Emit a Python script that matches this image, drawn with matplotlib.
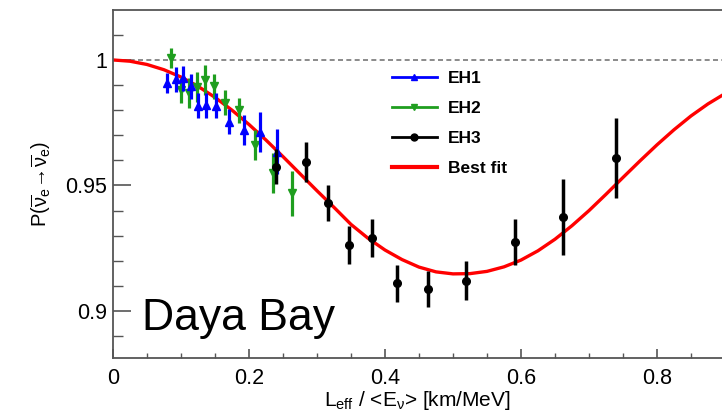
import matplotlib
matplotlib.use('Agg')
import matplotlib.pyplot as plt
from matplotlib.lines import Line2D
from matplotlib.ticker import MultipleLocator, FuncFormatter

plt.rcParams['font.family'] = ['Liberation Sans', 'DejaVu Sans']
plt.rcParams['mathtext.fontset'] = 'custom'
plt.rcParams['mathtext.rm'] = 'Liberation Sans'
plt.rcParams['mathtext.it'] = 'Liberation Sans:italic'
plt.rcParams['mathtext.bf'] = 'Liberation Sans:bold'

# Near hall EH1 (blue, up triangles)
EH1_L = [0.079, 0.093, 0.103, 0.114, 0.125, 0.137, 0.152, 0.170, 0.193, 0.216, 0.241]
EH1_P = [0.9907, 0.9923, 0.9927, 0.9896, 0.9817, 0.9820, 0.9817, 0.9754, 0.9720, 0.9714, 0.9635]
EH1_ERR = [0.004, 0.005, 0.005, 0.005, 0.005, 0.005, 0.005, 0.005, 0.006, 0.008, 0.009]

# Near hall EH2 (green, down triangles)
EH2_L = [0.085, 0.100, 0.112, 0.124, 0.136, 0.148, 0.165, 0.185, 0.209, 0.235, 0.263]
EH2_P = [1.0007, 0.9880, 0.9867, 0.9894, 0.9920, 0.9896, 0.9830, 0.9800, 0.9660, 0.9549, 0.9469]
EH2_ERR = [0.004, 0.005, 0.006, 0.006, 0.006, 0.005, 0.005, 0.005, 0.006, 0.008, 0.009]

# Far hall EH3 (black dots)
EH3_L = [0.240, 0.284, 0.316, 0.347, 0.381, 0.418, 0.463, 0.519, 0.591, 0.662, 0.740]
EH3_P = [0.9574, 0.9594, 0.9430, 0.9263, 0.9290, 0.9110, 0.9088, 0.9120, 0.9275, 0.9375, 0.9610]
EH3_ERR = [0.007, 0.008, 0.007, 0.0077, 0.0075, 0.0074, 0.007, 0.0078, 0.009, 0.015, 0.016]

# Best fit curve
FIT_L = [0.000, 0.025, 0.050, 0.075, 0.100, 0.125, 0.150, 0.175, 0.200, 0.225,
         0.250, 0.275, 0.300, 0.325, 0.350, 0.375, 0.400, 0.425, 0.450, 0.475,
         0.500, 0.525, 0.550, 0.575, 0.600, 0.625, 0.650, 0.675, 0.700, 0.725,
         0.750, 0.775, 0.800, 0.825, 0.850, 0.875, 0.900]
FIT_P = [1.0000, 0.9995, 0.9982, 0.9961, 0.9932, 0.9895, 0.9851, 0.9800, 0.9743, 0.9681,
         0.9615, 0.9547, 0.9479, 0.9413, 0.9345, 0.9290, 0.9243, 0.9205, 0.9175, 0.9156,
         0.9148, 0.9149, 0.9158, 0.9176, 0.9203, 0.9240, 0.9286, 0.9340, 0.9400, 0.9465,
         0.9532, 0.9598, 0.9662, 0.9722, 0.9777, 0.9825, 0.9866]

NO_OSCILLATION = 1.0

BLUE = '#0000ff'
GREEN = '#1f9e1f'
RED = '#ff0000'
AXIS_GRAY = '#555555'


def draw_graph():
    fig = plt.figure(figsize=(7.22, 4.13), dpi=100)
    ax = fig.add_axes([0.1565, 0.1332, 0.8435, 0.8426])

    ax.axhline(NO_OSCILLATION, color='#777777', lw=1.2, ls=(0, (3, 2)), zorder=1)
    ax.plot(FIT_L, FIT_P, color=RED, lw=2.4, zorder=2)

    ax.errorbar(EH2_L, EH2_P, yerr=EH2_ERR, fmt='v', color=GREEN, ms=5.5,
                elinewidth=2.3, capsize=0, zorder=3)
    ax.errorbar(EH1_L, EH1_P, yerr=EH1_ERR, fmt='^', color=BLUE, ms=5.5,
                elinewidth=2.3, capsize=0, zorder=4)
    ax.errorbar(EH3_L, EH3_P, yerr=EH3_ERR, fmt='o', color='black', ms=5.5,
                elinewidth=2.5, capsize=0, zorder=5)

    ax.set_xlim(0, 0.8956)
    ax.set_ylim(0.8813, 1.0199)

    ax.xaxis.set_major_locator(MultipleLocator(0.2))
    ax.xaxis.set_minor_locator(MultipleLocator(0.05))
    ax.yaxis.set_major_locator(MultipleLocator(0.05))
    ax.yaxis.set_minor_locator(MultipleLocator(0.01))
    fmt = FuncFormatter(lambda v, pos: '%g' % round(v, 3))
    ax.xaxis.set_major_formatter(fmt)
    ax.yaxis.set_major_formatter(fmt)

    ax.tick_params(axis='both', which='both', direction='in', color=AXIS_GRAY,
                   labelsize=15.5, top=False, right=False)
    ax.tick_params(axis='y', which='major', length=13, width=1.2, pad=4)
    ax.tick_params(axis='y', which='minor', length=7, width=1.0)
    ax.tick_params(axis='x', which='major', length=6.5, width=1.2, pad=7)
    ax.tick_params(axis='x', which='minor', length=3.6, width=1.0)
    for side in ['left', 'bottom', 'top']:
        ax.spines[side].set_color(AXIS_GRAY)
        ax.spines[side].set_linewidth(1.3)
    ax.spines['right'].set_visible(False)

    ax.set_xlabel(r'L$_{\mathrm{eff}}$ / <E$_{\mathrm{\nu}}$> [km/MeV]', fontsize=15, labelpad=0)
    ax.set_ylabel(r'P($\overline{\mathrm{\nu}}_{\mathrm{e}}\!\rightarrow\!\overline{\mathrm{\nu}}_{\mathrm{e}}$)',
                  fontsize=14.5, labelpad=9)

    ax.text(0.043, 0.8924, 'Daya Bay', fontsize=32, va='baseline', ha='left')

    handles = [
        Line2D([], [], color=BLUE, marker='^', ms=5, lw=2),
        Line2D([], [], color=GREEN, marker='v', ms=5, lw=2),
        Line2D([], [], color='black', marker='o', ms=5, lw=2),
        Line2D([], [], color=RED, lw=3),
    ]
    ax.legend(handles, ['EH1', 'EH2', 'EH3', 'Best fit'], loc='upper left',
              bbox_to_anchor=(0.4466, 0.845), frameon=False, handlelength=2.6,
              handletextpad=0.65, labelspacing=0.85, borderaxespad=0,
              prop={'weight': 'bold', 'size': 12.5})

    fig.savefig('out.png', dpi=100)


if __name__ == '__main__':
    draw_graph()
